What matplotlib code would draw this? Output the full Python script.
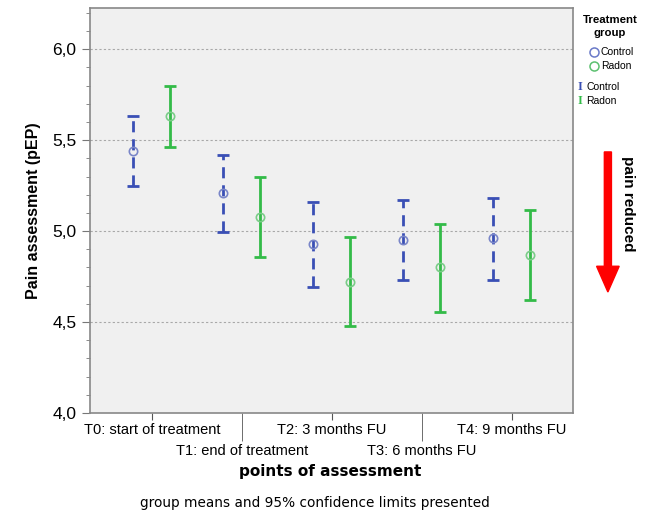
import numpy as np
import matplotlib.pyplot as plt
from matplotlib.lines import Line2D
from matplotlib.patches import FancyArrow

plt.rcParams['font.family'] = ['Liberation Sans', 'DejaVu Sans']

# Messzeitpunkte und Gruppenwerte (Mittelwert, 95%-KI)
points = ['T0: start of treatment', 'T1: end of treatment', 'T2: 3 months FU',
          'T3: 6 months FU', 'T4: 9 months FU']
control_mean = [5.44, 5.21, 4.93, 4.95, 4.96]
control_low = [5.25, 4.995, 4.69, 4.73, 4.73]
control_high = [5.63, 5.42, 5.16, 5.17, 5.18]
radon_mean = [5.63, 5.08, 4.72, 4.80, 4.87]
radon_low = [5.46, 4.855, 4.48, 4.555, 4.62]
radon_high = [5.80, 5.30, 4.97, 5.04, 5.115]

blue = '#3a4fb5'
green = '#33bb48'

fig = plt.figure(figsize=(6.46, 5.15), dpi=100)
ax = fig.add_axes([0.139, 0.198, 0.748, 0.786])
ax.set_facecolor('#f0f0f0')

x = np.arange(len(points))
off = 0.205

cm = np.array(control_mean)
e = ax.errorbar(x - off, cm, yerr=[cm - np.array(control_low), np.array(control_high) - cm],
                fmt='none', ecolor=blue, elinewidth=2.0, capsize=4.5, capthick=2.0, zorder=3)
e[2][0].set_linestyle((0, (4, 2.5)))
ax.plot(x - off, cm, 'o', mfc='none', mec='#7a86c8', ms=6, mew=1.2, zorder=4)

rm = np.array(radon_mean)
ax.errorbar(x + off, rm, yerr=[rm - np.array(radon_low), np.array(radon_high) - rm],
            fmt='none', ecolor=green, elinewidth=2.0, capsize=4.5, capthick=2.0, zorder=3)
ax.plot(x + off, rm, 'o', mfc='none', mec='#7acc88', ms=6, mew=1.2, zorder=4)

ax.set_ylim(4.0, 6.225)
ax.set_xlim(-0.69, 4.68)
ax.set_yticks([4.0, 4.5, 5.0, 5.5, 6.0])
ax.set_yticklabels(['4,0', '4,5', '5,0', '5,5', '6,0'], fontsize=12.5)
ax.set_yticks(np.arange(4.0, 6.25, 0.1), minor=True)
for yv in [4.5, 5.0, 5.5, 6.0]:
    ax.axhline(yv, color='#a8a8a8', lw=0.8, ls=(0, (2, 2)), zorder=1)

ax.set_xticks([0, 2, 4])
ax.set_xticklabels([points[0], points[2], points[4]], fontsize=10.5)
ax.set_xticks([1, 3], minor=True)
ax.set_xticklabels([points[1], points[3]], minor=True, fontsize=10.5)
ax.tick_params(axis='x', which='major', length=5, pad=2)
ax.tick_params(axis='x', which='minor', length=20, pad=2)
ax.tick_params(axis='y', which='major', length=6, color='#777777')
ax.tick_params(axis='y', which='minor', length=3, color='#777777')
ax.tick_params(axis='x', which='both', color='#555555')

for s in ax.spines.values():
    s.set_color('#888888')
    s.set_linewidth(1.2)

ax.set_ylabel('Pain assessment (pEP)', fontsize=11.5, fontweight='bold', labelpad=8)
fig.text(0.511, 0.085, 'points of assessment', ha='center', va='center',
         fontsize=11, fontweight='bold', family='DejaVu Sans')
fig.text(0.488, 0.023, 'group means and 95% confidence limits presented', ha='center',
         va='center', fontsize=9.8, family='DejaVu Sans')

# Legende rechts oben
fig.text(0.944, 0.961, 'Treatment', ha='center', va='center', fontsize=8.2, fontweight='bold')
fig.text(0.944, 0.936, 'group', ha='center', va='center', fontsize=8.2, fontweight='bold')
fig.add_artist(Line2D([0.919], [0.899], marker='o', mfc='none', mec='#6a7ac8', ms=6.5, mew=1.1))
fig.text(0.930, 0.899, 'Control', ha='left', va='center', fontsize=7.5)
fig.add_artist(Line2D([0.919], [0.872], marker='o', mfc='none', mec='#5cc070', ms=6.5, mew=1.1))
fig.text(0.930, 0.872, 'Radon', ha='left', va='center', fontsize=7.5)
fig.text(0.898, 0.831, 'I', color=blue, ha='center', va='center', fontsize=9,
         fontweight='bold', family='Liberation Serif')
fig.text(0.908, 0.831, 'Control', ha='left', va='center', fontsize=7.5)
fig.text(0.898, 0.804, 'I', color=green, ha='center', va='center', fontsize=9,
         fontweight='bold', family='Liberation Serif')
fig.text(0.908, 0.804, 'Radon', ha='left', va='center', fontsize=7.5)

# Pfeil "pain reduced"
fig.add_artist(FancyArrow(0.941, 0.705, 0, -0.272, width=0.011, head_width=0.035,
                          head_length=0.05, length_includes_head=True,
                          color='#ff0000', transform=fig.transFigure))
fig.text(0.972, 0.604, 'pain reduced', rotation=-90, ha='center', va='center',
         fontsize=11, fontweight='bold')

fig.savefig('out.png', dpi=100)
